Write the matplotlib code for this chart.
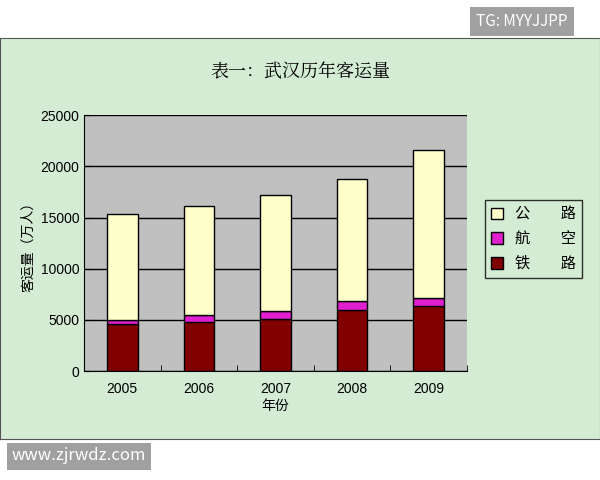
import matplotlib.pyplot as plt
import numpy as np

plt.rcParams['font.family'] = ['Noto Sans CJK SC', 'DejaVu Sans']

years = ['2005', '2006', '2007', '2008', '2009']
rail = [4600, 4800, 5100, 6000, 6400]
air = [400, 650, 800, 800, 700]
road = [10300, 10650, 11300, 12000, 14500]

fig = plt.figure(figsize=(6, 4.8), dpi=100, facecolor='white')
bg = fig.add_axes([0.0, 0.085, 1.0, 0.835])
bg.set_facecolor('#d5ecd4')
bg.set_xticks([]); bg.set_yticks([])
for s in bg.spines.values():
    s.set_color('#555555')

ax = fig.add_axes([0.14, 0.227, 0.638, 0.533])
ax.set_facecolor('#c0c0c0')
x = np.arange(len(years))
w = 0.4
ax.bar(x, rail, w, color='#800000', edgecolor='black', linewidth=1, label='铁\u3000\u3000路', zorder=3)
ax.bar(x, air, w, bottom=rail, color='#e020d0', edgecolor='black', linewidth=1, label='航\u3000\u3000空', zorder=3)
bot = np.array(rail) + np.array(air)
ax.bar(x, road, w, bottom=bot, color='#ffffcc', edgecolor='black', linewidth=1, label='公\u3000\u3000路', zorder=3)
ax.set_ylim(0, 25000)
ax.set_xlim(-0.5, 4.5)
ax.set_yticks(range(0, 25001, 5000))
ax.yaxis.grid(True, color='black', linewidth=1, zorder=0)
ax.set_xticks(x, years)
ax.set_xticks(np.arange(-0.5, 5, 1), minor=True)
ax.tick_params(axis='x', which='major', length=0, labelsize=10, pad=8)
ax.tick_params(axis='x', which='minor', length=4, direction='in')
ax.tick_params(axis='y', labelsize=10, direction='in', length=4)
for lab in ax.get_xticklabels() + ax.get_yticklabels():
    lab.set_family('Liberation Sans')
for s in ['top', 'right']:
    ax.spines[s].set_visible(False)
ax.set_xlabel('年份', fontsize=10, labelpad=2)
ax.set_ylabel('客运量（万人）', fontsize=10, labelpad=4)

h, l = ax.get_legend_handles_labels()
fig.legend(h[::-1], l[::-1], loc='upper left', bbox_to_anchor=(0.795, 0.6),
           fontsize=11, frameon=True, fancybox=False, edgecolor='black',
           facecolor='#d5ecd4', handlelength=0.8, handleheight=0.8, labelspacing=0.5)

fig.text(0.5, 0.84, '表一：武汉历年客运量', ha='center', fontsize=13, family=['Noto Serif CJK SC', 'Noto Sans CJK SC'])
fig.text(0.87, 0.955, 'TG: MYYJJPP', ha='center', va='center', fontsize=11, color='white',
         bbox=dict(boxstyle='square,pad=0.4', facecolor='#a0a0a0', edgecolor='none'))
fig.text(0.02, 0.05, 'www.zjrwdz.com', ha='left', va='center', fontsize=12, color='white',
         bbox=dict(boxstyle='square,pad=0.3', facecolor='#a0a0a0', edgecolor='none'))

fig.savefig('out.png', dpi=100, facecolor=fig.get_facecolor())
